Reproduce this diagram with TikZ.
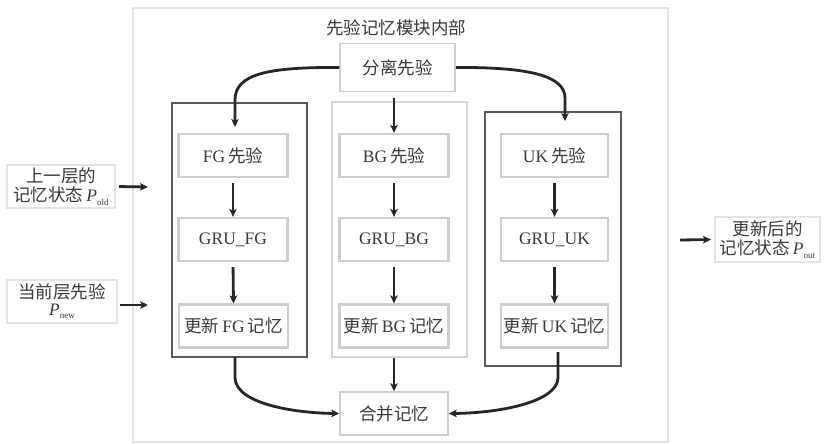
\documentclass[tikz,border=0pt]{standalone}
\usepackage{fontspec}
\setmainfont{Liberation Serif}
\newfontfamily\cjk{Noto Sans CJK SC}
\usetikzlibrary{arrows.meta}
\definecolor{txt}{HTML}{3A3A3A}
\definecolor{dark}{HTML}{5A5A5A}
\definecolor{light}{HTML}{CFCFCF}
\definecolor{pale}{HTML}{E4E4E4}
\definecolor{arrc}{HTML}{262626}
\newcommand{\Psub}[1]{\textit{P}\raisebox{-0.45ex}{\fontsize{9}{9}\selectfont #1}}
\begin{document}
\begin{tikzpicture}[x=1pt,y=-1pt,
  every node/.style={font=\fontsize{17.5}{19.5}\selectfont, text=txt},
  bigbox/.style={draw=pale, line width=2pt, inner sep=0pt},
  grpdark/.style={draw=dark, line width=2.6pt, inner sep=0pt, minimum width=135pt, minimum height=254pt},
  grplight/.style={draw=light!85, line width=2pt, inner sep=0pt, minimum width=135pt, minimum height=255pt},
  innerbox/.style={draw=light, line width=2.2pt, inner sep=0pt, minimum width=109pt, minimum height=43pt},
  plainbox/.style={draw=light, line width=1.5pt, inner sep=0pt},
  iobox/.style={draw=pale, line width=2pt, inner sep=0pt, align=center},
  arr/.style={draw=arrc, line width=2.8pt, -{Stealth[length=8pt,width=7.5pt,inset=2pt]}}
]
\useasboundingbox (0,0) rectangle (824,444);

% outer frame
\node[bigbox, minimum width=535pt, minimum height=434pt] (outer) at (400.5,225) {};
\node (title) at (396,28) {\cjk 先验记忆模块内部};

% top and bottom boxes
\node[plainbox, minimum width=115pt, minimum height=48pt] (sep) at (397.5,67.5) {\cjk 分离先验};
\node[plainbox, minimum width=108pt, minimum height=43pt] (mer) at (394,413.5) {\cjk 合并记忆};

% group boxes
\node[grpdark] (fgg) at (239.5,230) {};
\node[grplight] (bgg) at (399.5,229.5) {};
\node[grpdark, minimum width=136pt] (ukg) at (553,239) {};

% inner boxes FG
\node[innerbox] (fg1) at (233,155.5) {FG\,{\cjk 先验}};
\node[innerbox] (fg2) at (233,239.5) {GRU\_FG};
\node[innerbox] (fg3) at (233.5,326) {{\cjk 更新}\,FG\,{\cjk 记忆}};
% inner boxes BG
\node[innerbox] (bg1) at (394,155.5) {BG\,{\cjk 先验}};
\node[innerbox] (bg2) at (394,239.5) {GRU\_BG};
\node[innerbox] (bg3) at (394,326) {{\cjk 更新}\,BG\,{\cjk 记忆}};
% inner boxes UK
\node[innerbox, minimum width=107pt] (uk1) at (554.5,155.5) {UK\,{\cjk 先验}};
\node[innerbox, minimum width=107pt] (uk2) at (554.5,239.5) {GRU\_UK};
\node[innerbox, minimum width=107pt] (uk3) at (554.5,326) {{\cjk 更新}\,UK\,{\cjk 记忆}};

% input / output boxes
\node[iobox, minimum width=108pt, minimum height=43pt] (in1) at (61,186.5)
  {{\cjk 上一层的}\\{\cjk 记忆状态}\,\Psub{old}};
\node[iobox, minimum width=110pt, minimum height=43pt] (in2) at (62,301.5)
  {{\cjk 当前层先验}\\[-3pt]\Psub{new}};
\node[iobox, minimum width=105pt, minimum height=45pt] (out) at (767.5,239.5)
  {{\cjk 更新后的}\\{\cjk 记忆状态}\,\Psub{out}};

% helper coordinates
\coordinate (fgtip) at (235,127);
\coordinate (uktip) at (565,121);
\coordinate (fgbot) at (235,357);
\coordinate (ukbot) at (558,352);
\coordinate (in1tip) at (148,187);
\coordinate (in2tip) at (148,305);
\coordinate (outstart) at (680,240);

% arrows from 分离先验
\draw[arr] (sep.west) .. controls (268,67) and (235,74) .. (235,100) -- (fgtip);
\draw[arr, shorten <=6pt] (bg1.north |- sep.south) -- (bg1.north);
\draw[arr] (sep.east) .. controls (530,67) and (565,76) .. (565,98) -- (uktip);

% inner vertical arrows
\draw[arr, shorten <=5pt] (fg1.south) -- (fg2.north);
\draw[arr, shorten <=5pt] (fg2.south) -- (fg3.north);
\draw[arr, shorten <=5pt] (bg1.south) -- (bg2.north);
\draw[arr, shorten <=5pt] (bg2.south) -- (bg3.north);
\draw[arr, shorten <=5pt] (uk1.south) -- (uk2.north);
\draw[arr, shorten <=5pt] (uk2.south) -- (uk3.north);

% arrows to 合并记忆
\draw[arr] (fgbot) -- (235,378) .. controls (236,404) and (295,413) .. (mer.west);
\draw[arr] (mer.north |- bgg.south) -- (mer.north);
\draw[arr] (ukbot) -- (558,378) .. controls (557,402) and (500,413) .. (mer.east);

% input / output arrows
\draw[arr, shorten <=3pt] (in1.east) -- (in1tip);
\draw[arr, shorten <=2pt] (in2.east |- in2tip) -- (in2tip);
\draw[arr, shorten >=3pt] (outstart) -- (out.west);
\end{tikzpicture}
\end{document}
